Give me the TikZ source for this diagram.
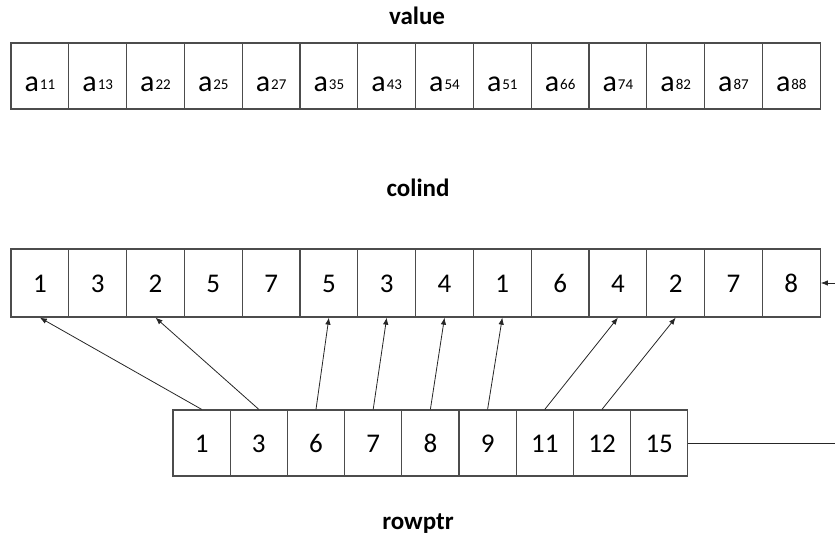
\documentclass[tikz,border=0pt]{standalone}
\usepackage{fontspec}
\setmainfont{Carlito}
\usetikzlibrary{arrows.meta}

% element of the value array: a with a small index
\newcommand{\matentry}[1]{a\kern1pt\raisebox{2pt}{\fontsize{15}{15}\selectfont #1}}

\begin{document}
\begin{tikzpicture}[x=1pt,y=-1pt,
  cell/.style={draw=black!70, line width=1.3pt, fill=white, inner sep=0pt,
    minimum width=57.8pt, minimum height=68pt,
    font=\fontsize{27}{27}\selectfont, text height=18pt, text depth=0pt},
  valcell/.style={cell, minimum height=66pt,
    font=\fontsize{30}{30}\selectfont, text height=32pt},
  ptrcell/.style={cell, minimum width=57.2pt, minimum height=66pt},
  link/.style={-{Latex[length=7pt,width=5.5pt]}, line width=0.8pt, black!85},
  title/.style={font=\bfseries\fontsize{25}{25}\selectfont, anchor=base}]

\useasboundingbox (0,0) rectangle (835,537);

% titles
\node[title] (tval) at (417,25) {value};
\node[title] (tcol) at (418,197) {colind};
\node[title] (tptr) at (418,529) {rowptr};

% value array
\foreach \v [count=\i] in {11,13,22,25,27,35,43,54,51,66,74,82,87,88}
  \node[valcell] (v\i) at ({11+57.8*(\i-0.5)},76) {\matentry{\v}};

% colind array
\foreach \v [count=\i] in {1,3,2,5,7,5,3,4,1,6,4,2,7,8}
  \node[cell] (c\i) at ({11+57.8*(\i-0.5)},283) {\v};

% rowptr array
\foreach \v [count=\i] in {1,3,6,7,8,9,11,12,15}
  \node[ptrcell] (r\i) at ({173+57.2*(\i-0.5)},443) {\v};

% row pointers into colind
\foreach \r/\c in {1/1,2/3,3/6,4/7,5/8,6/9,7/11,8/12}
  \draw[link] (r\r.north) -- (c\c.south);

% last pointer runs past the right edge and back into the end of colind
\draw[link] (r9.east) -- (850,443) |- (c14.east);
\end{tikzpicture}
\end{document}
